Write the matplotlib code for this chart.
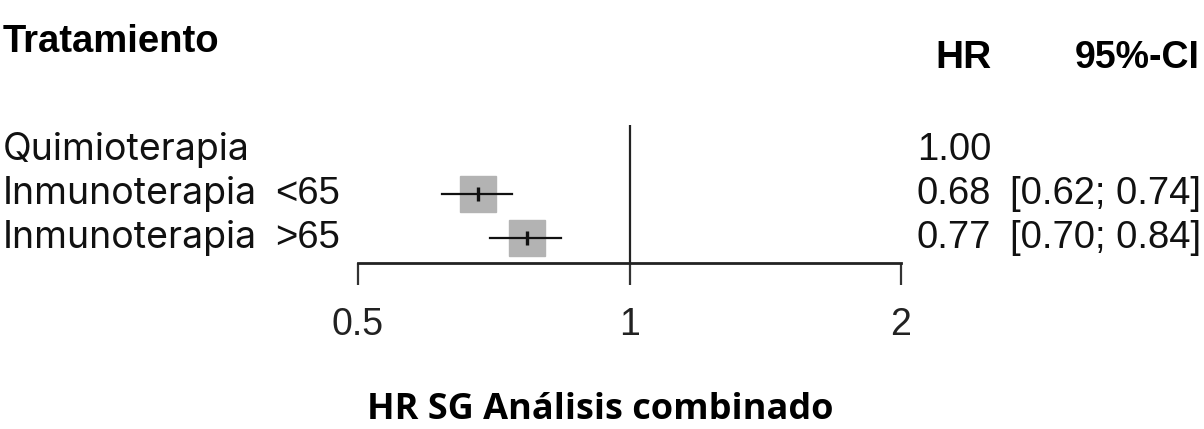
import matplotlib
matplotlib.use("Agg")
import matplotlib.pyplot as plt
from matplotlib.transforms import blended_transform_factory

# data
treatments = ["Quimioterapia", "Inmunoterapia", "Inmunoterapia"]
age_groups = ["", "<65", ">65"]
hr = [1.00, 0.68, 0.77]
ci_lo = [None, 0.62, 0.70]
ci_hi = [None, 0.74, 0.84]
xticks = [0.5, 1, 2]
xtick_labels = ["0.5", "1", "2"]

W, H = 1204, 429
plt.rcParams["font.family"] = ["Liberation Sans", "DejaVu Sans"]
fig = plt.figure(figsize=(W / 100, H / 100), dpi=100)

# forest axis placed in pixel terms
ax_l, ax_r, ax_t, ax_b = 358, 901, 100, 263
ax = fig.add_axes([ax_l / W, 1 - ax_b / H, (ax_r - ax_l) / W, (ax_b - ax_t) / H])
ax.set_xscale("log")
ax.set_xlim(0.5, 2)
row_gap = 44.0
ax.set_ylim((ax_b - 150) / row_gap, (ax_t - 150) / row_gap)
rows = list(range(len(treatments)))

for s in ["top", "right", "left"]:
    ax.spines[s].set_visible(False)
ax.spines["bottom"].set_linewidth(2)
ax.spines["bottom"].set_color("#222222")
ax.set_yticks([])
ax.set_xticks(xticks)
ax.set_xticklabels(xtick_labels)
ax.xaxis.set_minor_locator(matplotlib.ticker.NullLocator())
ax.tick_params(axis="x", direction="out", length=16, width=1.6, color="#333333",
               labelsize=27, pad=16, labelcolor="#222222")
ax.patch.set_alpha(0)

# reference line at HR = 1
ax.vlines(1, ax.get_ylim()[0], -0.57, color="#222222", lw=1.6, zorder=1)

for r, h, lo, hi in zip(rows, hr, ci_lo, ci_hi):
    if lo is None:
        continue
    ax.plot(h, r, marker="s", ms=26, color="#b3b3b3", mec="#b3b3b3", zorder=2)
    ax.plot([lo, hi], [r, r], color="#111111", lw=1.6, zorder=3)
    ax.plot(h, r, marker="|", ms=10, mew=2.4, color="#111111", zorder=4)

# row labels and values
tr = blended_transform_factory(fig.transFigure, ax.transData)
for r, lab, grp, h, lo, hi in zip(rows, treatments, age_groups, hr, ci_lo, ci_hi):
    ax.text(3 / W, r, lab, transform=tr, ha="left", va="center", fontsize=27,
            color="#111111", family=["Inter", "DejaVu Sans"])
    if grp:
        ax.text(275 / W, r, grp, transform=tr, ha="left", va="center", fontsize=27.5,
                color="#111111")
    ax.text(917 / W, r, f"{h:.2f}", transform=tr, ha="left", va="center", fontsize=27.5,
            color="#111111")
    if lo is not None:
        ax.text(1201 / W, r, f"[{lo:.2f}; {hi:.2f}]", transform=tr, ha="right", va="center",
                fontsize=27.5, color="#111111")

# headers
fig.text(3 / W, 1 - 42 / H, "Tratamiento", ha="left", va="center", fontsize=27.5,
         fontweight="bold", color="#000000")
fig.text(963 / W, 1 - 58 / H, "HR", ha="center", va="center", fontsize=28,
         fontweight="bold", color="#000000")
fig.text(1200 / W, 1 - 58 / H, "95%-CI", ha="right", va="center", fontsize=27,
         fontweight="bold", color="#000000")
fig.text(600 / W, 1 - 410 / H, "HR SG Análisis combinado", ha="center", va="center",
         fontsize=26, fontweight="bold", color="#000000", family=["Open Sans", "DejaVu Sans"])

fig.savefig("out.png", dpi=100)
